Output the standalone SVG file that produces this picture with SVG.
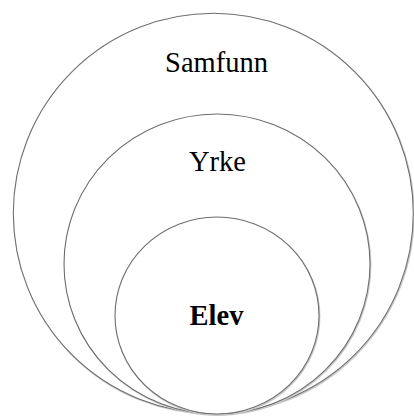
<svg xmlns="http://www.w3.org/2000/svg" width="414" height="416" viewBox="0 0 414 416">
<style>
.c{fill:#fff;stroke:#6e6e6e;stroke-width:1.1}
.s{fill:none;stroke:#c8c8c8;stroke-width:1.5}
text{font-size:28.5px;fill:#000;text-anchor:middle}
.b{font-weight:bold}
</style>
<rect width="414" height="416" fill="#fff"/>
<g font-family="Liberation Serif, Times New Roman, serif">
<g id="samfunn">
<ellipse class="s" cx="214" cy="214.2" rx="200" ry="200"/>
<ellipse class="c" cx="213.3" cy="213.3" rx="200" ry="200"/>
<text x="216.5" y="71.5">Samfunn</text>
</g>
<g id="yrke">
<ellipse class="s" cx="217.7" cy="265" rx="153" ry="150"/>
<ellipse class="c" cx="217" cy="264" rx="153" ry="150"/>
<text x="217.5" y="170.5">Yrke</text>
</g>
<g id="elev">
<ellipse class="s" cx="217.7" cy="316.5" rx="102" ry="98.5"/>
<ellipse class="c" cx="217" cy="315.5" rx="102" ry="98.5"/>
<text class="b" x="216.5" y="325">Elev</text>
</g>
</g>
</svg>
